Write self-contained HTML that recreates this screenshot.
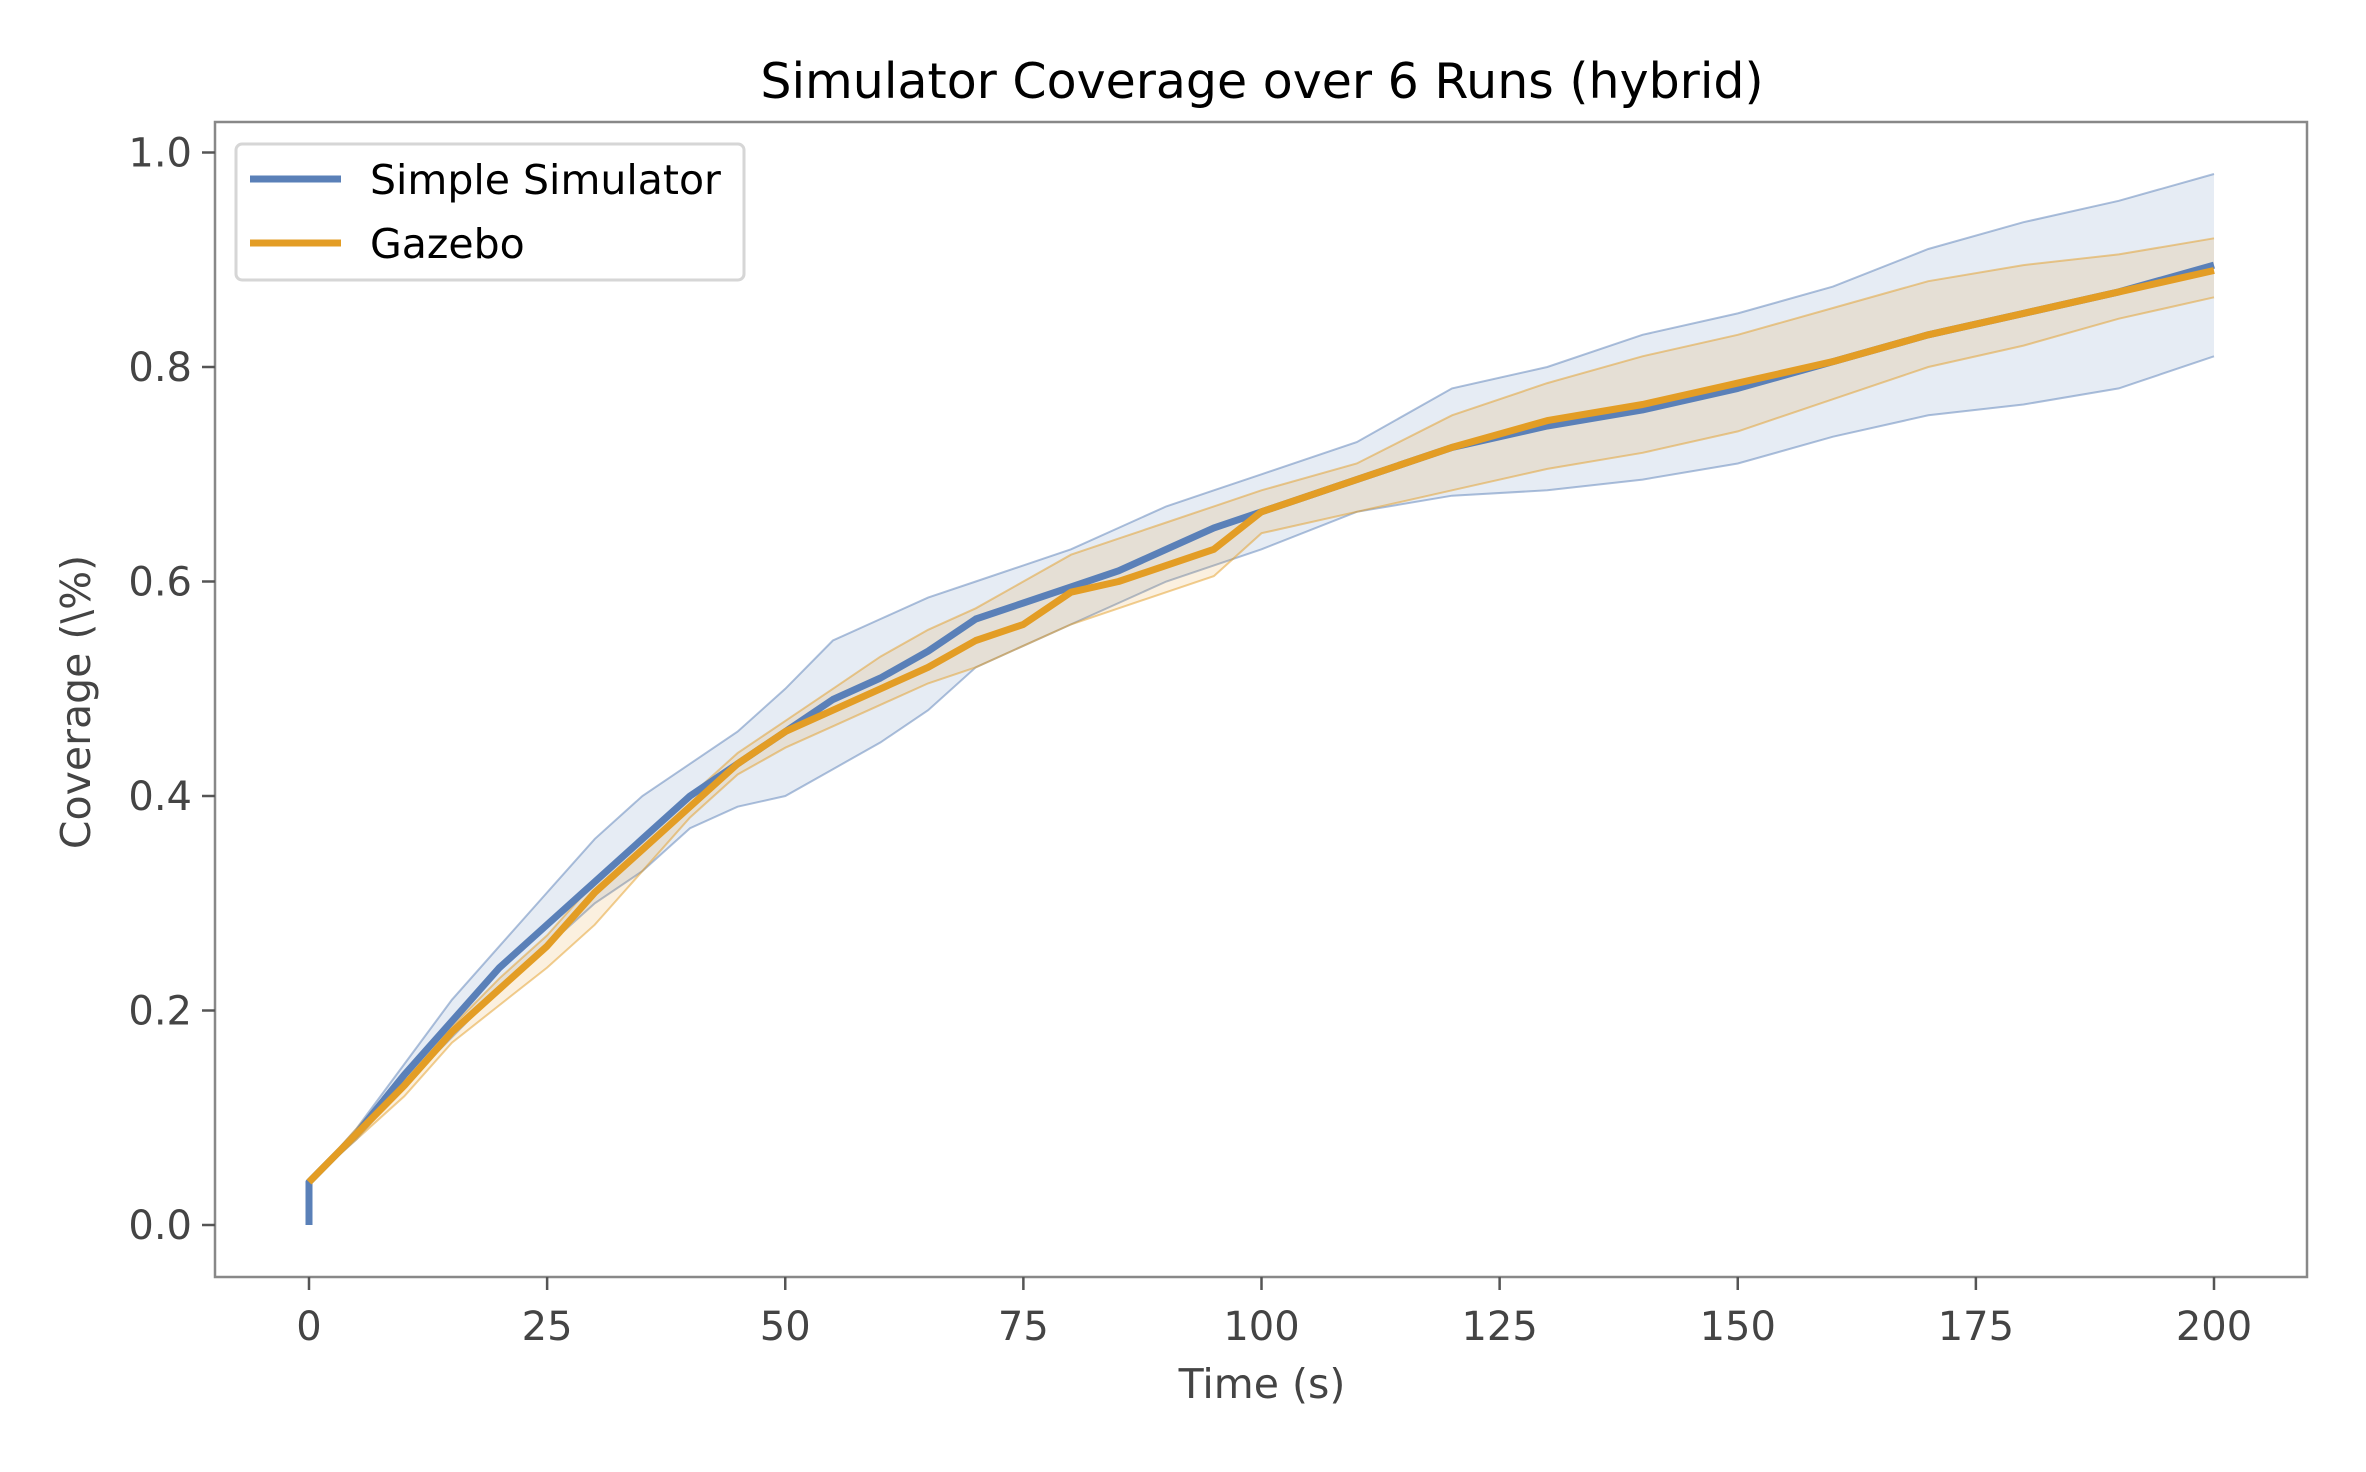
<!DOCTYPE html>
<html><head><meta charset="utf-8"><style>
body{margin:0;background:#fff}
svg text{font-family:"DejaVu Sans","Liberation Sans",sans-serif}
</style></head><body>
<svg id="chart" width="2366" height="1467" xmlns="http://www.w3.org/2000/svg">
<rect width="2366" height="1467" fill="#fff"/>
<text x="1262" y="98" font-size="49" text-anchor="middle" fill="#000">Simulator Coverage over 6 Runs (hybrid)</text>
<g id="plot"></g>
<rect x="215" y="122" width="2092" height="1155" fill="none" stroke="#888" stroke-width="2.5"/>
<g id="axes"></g>
<text x="1262" y="1398" font-size="41" text-anchor="middle" fill="#444">Time (s)</text>
<text transform="translate(90,702) rotate(-90)" font-size="41" text-anchor="middle" fill="#444">Coverage (\%)</text>
<g>
<rect x="236" y="144" width="508" height="136" rx="6" fill="#fff" fill-opacity="0.8" stroke="#d6d6d6" stroke-width="3"/>
<line x1="250" y1="179" x2="341" y2="179" stroke="#5a80b8" stroke-width="7"/>
<text x="370" y="194" font-size="41" fill="#000">Simple Simulator</text>
<line x1="250" y1="243" x2="341" y2="243" stroke="#e39d25" stroke-width="7"/>
<text x="370" y="258" font-size="41" fill="#000">Gazebo</text>
</g>
</svg>
<script>
const times=[0,5,10,15,20,25,30,35,40,45,50,55,60,65,70,75,80,85,90,95,100,110,120,130,140,150,160,170,180,190,200];
const simpleMean=[0.04,0.085,0.14,0.19,0.24,0.28,0.32,0.36,0.40,0.43,0.46,0.49,0.51,0.535,0.565,0.58,0.595,0.61,0.63,0.65,0.665,0.695,0.725,0.745,0.76,0.78,0.805,0.83,0.85,0.87,0.895];
const simpleUpper=[0.04,0.09,0.15,0.21,0.26,0.31,0.36,0.40,0.43,0.46,0.50,0.545,0.565,0.585,0.60,0.615,0.63,0.65,0.67,0.685,0.70,0.73,0.78,0.80,0.83,0.85,0.875,0.91,0.935,0.955,0.98];
const simpleLower=[0.04,0.08,0.13,0.175,0.22,0.26,0.30,0.33,0.37,0.39,0.40,0.425,0.45,0.48,0.52,0.54,0.56,0.58,0.60,0.615,0.63,0.665,0.68,0.685,0.695,0.71,0.735,0.755,0.765,0.78,0.81];
const gazeboMean=[0.04,0.085,0.13,0.18,0.22,0.26,0.31,0.35,0.39,0.43,0.46,0.48,0.50,0.52,0.545,0.56,0.59,0.60,0.615,0.63,0.665,0.695,0.725,0.75,0.765,0.785,0.805,0.83,0.85,0.87,0.89];
const gazeboUpper=[0.04,0.09,0.14,0.185,0.23,0.27,0.32,0.36,0.40,0.44,0.47,0.50,0.53,0.555,0.575,0.60,0.625,0.64,0.655,0.67,0.685,0.71,0.755,0.785,0.81,0.83,0.855,0.88,0.895,0.905,0.92];
const gazeboLower=[0.04,0.08,0.12,0.17,0.205,0.24,0.28,0.33,0.38,0.42,0.445,0.465,0.485,0.505,0.52,0.54,0.56,0.575,0.59,0.605,0.645,0.665,0.685,0.705,0.72,0.74,0.77,0.80,0.82,0.845,0.865];
const xTicks=[0,25,50,75,100,125,150,175,200];
const yTicks=[0,0.2,0.4,0.6,0.8,1.0];
const yTickLabels=["0.0","0.2","0.4","0.6","0.8","1.0"];

const NS="http://www.w3.org/2000/svg";
const X=t=>309+(t/200)*(2214-309);
const Y=v=>1225-v*(1225-152.5);
function mk(tag,attrs,parent){const e=document.createElementNS(NS,tag);for(const k in attrs)e.setAttribute(k,attrs[k]);parent.appendChild(e);return e;}
const plot=document.getElementById('plot'),axes=document.getElementById('axes');
function pts(arr){return arr.map((v,i)=>X(times[i]).toFixed(1)+','+Y(v).toFixed(1));}
function band(up,lo,col,name){
  const d='M'+pts(up).join('L')+'L'+pts(lo).reverse().join('L')+'Z';
  const p=mk('path',{d:d,fill:col,'fill-opacity':0.15,stroke:'none'},plot);
  
  
  const u=mk('path',{d:'M'+pts(up).join('L'),fill:'none',stroke:col,'stroke-opacity':0.5,'stroke-width':2},plot);
  
  
  const l=mk('path',{d:'M'+pts(lo).join('L'),fill:'none',stroke:col,'stroke-opacity':0.5,'stroke-width':2},plot);
  
  
}
band(simpleUpper,simpleLower,'#5a80b8','simple');
band(gazeboUpper,gazeboLower,'#e39d25','gazebo');
const sl=mk('path',{d:'M'+X(0)+','+Y(0)+'L'+pts(simpleMean).join('L'),fill:'none',stroke:'#5a80b8','stroke-width':7,'stroke-linejoin':'round'},plot);


const gl=mk('path',{d:'M'+pts(gazeboMean).join('L'),fill:'none',stroke:'#e39d25','stroke-width':7,'stroke-linejoin':'round'},plot);


xTicks.forEach(t=>{
  const tk=mk('line',{x1:X(t),x2:X(t),y1:1277,y2:1290,stroke:'#555','stroke-width':2.5},axes);
  
  
  const tx=mk('text',{x:X(t),y:1340,'font-size':40,'text-anchor':'middle',fill:'#444'},axes);
  tx.textContent=String(t);
  
  
});
yTicks.forEach((v,i)=>{
  const tk=mk('line',{x1:202,x2:215,y1:Y(v),y2:Y(v),stroke:'#555','stroke-width':2.5},axes);
  
  
  const tx=mk('text',{x:192,y:Y(v)+14,'font-size':40,'text-anchor':'end',fill:'#444'},axes);
  tx.textContent=yTickLabels[i];
  
  
});
</script>
</body></html>
